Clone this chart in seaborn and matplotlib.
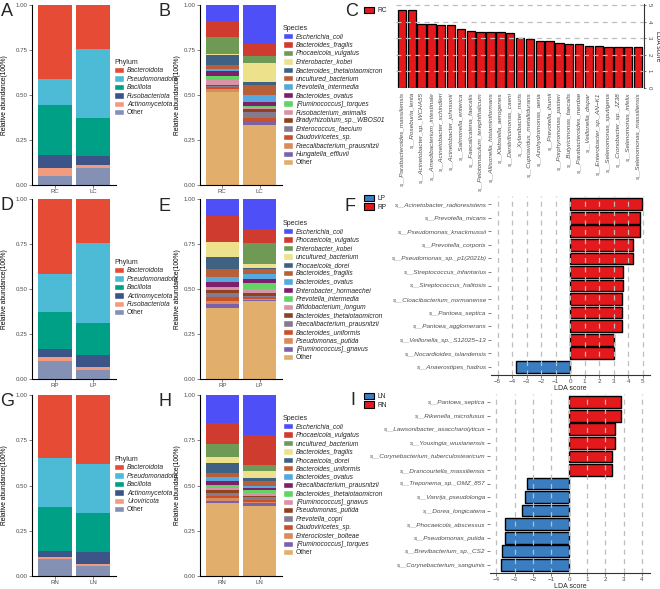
import numpy as np
import pandas as pd
import matplotlib
matplotlib.use("Agg")
import matplotlib.pyplot as plt
from matplotlib.patches import Patch
import seaborn as sns

sns.set_style("ticks")
plt.rcParams['font.family'] = ['Liberation Sans', 'DejaVu Sans']

W, H = 660, 589

# ---------------- DATA ----------------
phylum_colors = ["#E64B35", "#4DBBD5", "#00A087", "#3C5488", "#F39B7F", "#8491B4"]
species_colors = ["#4F4FF7", "#D03B30", "#6E9A55", "#EEE18C", "#3F6282", "#B95F38",
                  "#55A9DF", "#7E1F6C", "#62D463", "#D993A6", "#8D4322", "#857A8E",
                  "#C8512A", "#DA8A5C", "#7A62AA", "#E1AE6B"]

# Panel A (legend order, top of stack first)
samples_A = ["RC", "LC"]
phyla_A = ["Bacteroidota", "Pseudomonadota", "Bacillota", "Fusobacteriota", "Actinomycetota", "Other"]
RC_phylum = [0.413, 0.143, 0.277, 0.071, 0.044, 0.052]
LC_phylum = [0.246, 0.384, 0.209, 0.052, 0.013, 0.096]

# Panel D
samples_D = ["RP", "LP"]
phyla_D = ["Bacteroidota", "Pseudomonadota", "Bacillota", "Actinomycetota", "Fusobacteriota", "Other"]
RP_phylum = [0.419, 0.211, 0.203, 0.047, 0.018, 0.102]
LP_phylum = [0.246, 0.445, 0.176, 0.068, 0.015, 0.050]

# Panel G
samples_G = ["RN", "LN"]
phyla_G = ["Bacteroidota", "Pseudomonadota", "Bacillota", "Actinomycetota", "Uroviricota", "Other"]
RN_phylum = [0.349, 0.269, 0.246, 0.031, 0.013, 0.092]
LN_phylum = [0.381, 0.272, 0.215, 0.064, 0.015, 0.053]

# Panel B
species_B = ["Escherichia_coli", "Bacteroides_fragilis", "Phocaeicola_vulgatus", "Enterobacter_kobei",
             "Bacteroides_thetaiotaomicron", "uncultured_bacterium", "Prevotella_intermedia",
             "Bacteroides_ovatus", "[Ruminococcus]_torques", "Fusobacterium_animalis",
             "Bradyrhizobium_sp._WBOS01", "Enterococcus_faecium", "Caudoviricetes_sp.",
             "Faecalibacterium_prausnitzii", "Hungatella_effluvii", "Other"]
RC_species = [0.087, 0.093, 0.094, 0.002, 0.056, 0.024, 0.013, 0.026, 0.022, 0.026,
              0.009, 0.004, 0.009, 0.017, 0.003, 0.515]
LC_species = [0.216, 0.069, 0.040, 0.104, 0.015, 0.055, 0.042, 0.018, 0.016, 0.004,
              0.018, 0.033, 0.012, 0.004, 0.018, 0.336]

# Panel E
species_E = ["Escherichia_coli", "Phocaeicola_vulgatus", "Enterobacter_kobei", "uncultured_bacterium",
             "Phocaeicola_dorei", "Bacteroides_fragilis", "Bacteroides_ovatus", "Enterobacter_hormaechei",
             "Prevotella_intermedia", "Bifidobacterium_longum", "Bacteroides_thetaiotaomicron",
             "Faecalibacterium_prausnitzii", "Bacteroides_uniformis", "Pseudomonas_putida",
             "[Ruminococcus]_gnavus", "Other"]
RP_species = [0.093, 0.146, 0.002, 0.080, 0.069, 0.042, 0.031, 0.024, 0.007, 0.009,
              0.018, 0.024, 0.022, 0.015, 0.022, 0.396]
LP_species = [0.168, 0.077, 0.115, 0.022, 0.005, 0.031, 0.024, 0.022, 0.038, 0.022,
              0.013, 0.009, 0.007, 0.007, 0.009, 0.431]

# Panel H
species_H = ["Escherichia_coli", "Phocaeicola_vulgatus", "uncultured_bacterium", "Bacteroides_fragilis",
             "Phocaeicola_dorei", "Bacteroides_uniformis", "Bacteroides_ovatus",
             "Faecalibacterium_prausnitzii", "Bacteroides_thetaiotaomicron", "[Ruminococcus]_gnavus",
             "Pseudomonas_putida", "Prevotella_copri", "Caudoviricetes_sp.", "Enterocloster_bolteae",
             "[Ruminococcus]_torques", "Other"]
RN_species = [0.155, 0.115, 0.071, 0.033, 0.055, 0.022, 0.024, 0.024, 0.016, 0.009,
              0.018, 0.015, 0.013, 0.018, 0.009, 0.403]
LN_species = [0.219, 0.168, 0.031, 0.042, 0.013, 0.029, 0.011, 0.013, 0.013, 0.018,
              0.007, 0.015, 0.011, 0.007, 0.018, 0.385]

# Panel C (LDA, RC)
C_names = ["s__Parabacteroides_massiliensis", "s__Roseburia_lenta", "s__Acinetobacter_sp._WCHA55",
           "s__Amedibacterium_intestinale", "s__Acinetobacter_schindleri", "s__Acinetobacter_johnsonii",
           "s__Salmonella_enterica", "s__Faecalicatena_faecalis", "s__Pelotomaculum_terephthalicum",
           "s__Allisonella_histaminiformans", "s__Klebsiella_aerogenes", "s__Denitrificimonas_caeni",
           "s__Xylanibacter_muris", "s__Cupriavidus_metallidurans", "s__Azohydromonas_aeria",
           "s__Prevotella_ihumii", "s__Porphyromonas_pasteri", "s__Butyricimonas_faecalis",
           "s__Parabacteroides_merdae", "s__Veillonella_dispar", "s__Enterobacter_sp._AN\u2212K1",
           "s__Selenomonas_sputigena", "s__Cronobacter_sp._JZ38", "s__Selenomonas_infelix",
           "s__Selenomonas_massiliensis"]
C_values = [4.70, 4.70, 3.84, 3.84, 3.82, 3.80, 3.56, 3.42, 3.40, 3.36, 3.36, 3.34, 3.00,
            2.98, 2.84, 2.82, 2.74, 2.66, 2.64, 2.56, 2.56, 2.48, 2.48, 2.48, 2.46]
C_groups = ["RC"]

# Panel F (LDA, LP vs RP)
F_names = ["s__Acinetobacter_radioresistens", "s__Prevotella_micans", "s__Pseudomonas_knackmussii",
           "s__Prevotella_corporis", "s__Pseudomonas_sp._p1(2021b)", "s__Streptococcus_infantarius",
           "s__Streptococcus_halitosis", "s__Cloacibacterium_normanense", "s__Pantoea_septica",
           "s__Pantoea_agglomerans", "s__Veillonella_sp._S12025\u221213", "s__Nocardioides_islandensis",
           "s__Anaerostipes_hadrus"]
F_values = [4.93, 4.82, 4.82, 4.36, 4.36, 3.67, 3.67, 3.56, 3.56, 3.56, 3.03, 3.03, -3.74]
F_groups = ["RP"] * 12 + ["LP"]

# Panel I (LDA, LN vs RN)
I_names = ["s__Pantoea_septica", "s__Rikenella_microfusus", "s__Lawsonibacter_asaccharolyticus",
           "s__Youxingia_wuxianensis", "s__Corynebacterium_tuberculostearicum",
           "s__Drancourtella_massiliensis", "s__Treponema_sp._OMZ_857", "s__Vanrija_pseudolonga",
           "s__Dorea_longicatena", "s__Phocaeicola_abscessus", "s__Pseudomonas_putida",
           "s__Brevibacterium_sp._CS2", "s__Corynebacterium_sanguinis"]
I_values = [2.83, 2.83, 2.51, 2.51, 2.35, 2.35, -2.29, -2.40, -2.57, -3.52, -3.52, -3.67, -3.74]
I_groups = ["RN"] * 6 + ["LN"] * 7

RED = "#E3191C"
BLUE = "#3A7DC1"
TICKC = "#4D4D4D"

# ---------------- FIGURE ----------------
fig = plt.figure(figsize=(W / 100, H / 100), dpi=100)


def add_ax(l, t, r, b):
    return fig.add_axes([l / W, 1 - b / H, (r - l) / W, (b - t) / H])


def legend_at(handles, labels, x, y, title=None, italic=True, fs=4.8):
    leg = fig.legend(handles, labels, loc="upper left", bbox_to_anchor=(x / W, 1 - y / H),
                     frameon=False, fontsize=fs, title=title, title_fontsize=5,
                     handlelength=1.5, handleheight=1.1, labelspacing=0.14,
                     handletextpad=0.45, borderaxespad=0, borderpad=0)
    leg._legend_box.align = "left"
    for t in leg.get_texts():
        if italic and t.get_text() != "Other":
            t.set_style("italic")
    return leg


def stacked(ax, samples, taxa, columns, colors, label_x):
    df = pd.DataFrame(dict(zip(samples, columns)), index=taxa)
    cum = df[::-1].cumsum()[::-1]
    for taxon, col in zip(taxa, colors):
        d = pd.DataFrame({"sample": samples, "top": cum.loc[taxon, samples].values})
        sns.barplot(data=d, x="sample", y="top", order=samples, color=col, width=0.9,
                    saturation=1, linewidth=0, errorbar=None, ax=ax)
    ax.set_xlim(-0.6, 1.6)
    ax.set_ylim(0, 1)
    ax.set_yticks([0, 0.25, 0.5, 0.75, 1.0])
    ax.set_yticklabels(["0.00", "0.25", "0.50", "0.75", "1.00"])
    ax.set_xlabel("")
    ax.set_ylabel("Relative abundance(100%)", fontsize=4.8, color="black")
    ax.yaxis.set_label_coords(label_x, 0.5)
    ax.tick_params(axis="both", labelsize=4.4, colors=TICKC, length=2, width=0.5, pad=1)
    for s in ["top", "right"]:
        ax.spines[s].set_visible(False)
    for s in ["left", "bottom"]:
        ax.spines[s].set_linewidth(0.8)
        ax.spines[s].set_color("black")


def lda_h(ax, names, values, groups, palette, xlim, xticks):
    df = pd.DataFrame({"name": names, "lda": values, "group": groups})
    sns.barplot(data=df, x="lda", y="name", hue="group", palette=palette, order=names,
                orient="h", dodge=False, width=0.86, saturation=1, edgecolor="black",
                linewidth=1.0, errorbar=None, legend=False, ax=ax)
    ax.set_xlim(*xlim)
    ax.set_ylim(len(names) - 0.4, -0.6)
    ax.set_xticks(xticks)
    ax.set_axisbelow(False)
    ax.xaxis.grid(True, linestyle=(0, (4, 3.5)), color="#BDBDBD", linewidth=0.9)
    ax.set_ylabel("")
    ax.set_xlabel("LDA score", fontsize=5, labelpad=0.5)
    ax.tick_params(axis="x", labelsize=4.5, colors=TICKC, length=2, width=0.5, pad=0.8)
    ax.tick_params(axis="y", labelsize=4.6, colors=TICKC, length=2, width=0.5, pad=1)
    for t in ax.get_yticklabels():
        t.set_style("italic")
    for s in ["top", "right", "left"]:
        ax.spines[s].set_visible(False)
    ax.spines["bottom"].set_linewidth(0.8)
    ax.spines["bottom"].set_color("#333333")


# Panel A
axA = add_ax(32, 5, 116, 185)
stacked(axA, samples_A, phyla_A, [RC_phylum, LC_phylum], phylum_colors, -0.29)
legend_at([Patch(facecolor=c) for c in phylum_colors], phyla_A, 114, 59, "Phylum")

# Panel B
axB = add_ax(200, 5, 282, 185)
stacked(axB, samples_A, species_B, [RC_species, LC_species], species_colors, -0.235)
legend_at([Patch(facecolor=c) for c in species_colors], species_B, 283, 25, "Species")

# Panel D
axD = add_ax(32, 199, 116, 379)
stacked(axD, samples_D, phyla_D, [RP_phylum, LP_phylum], phylum_colors, -0.29)
legend_at([Patch(facecolor=c) for c in phylum_colors], phyla_D, 114, 259, "Phylum")

# Panel E
axE = add_ax(200, 199, 282, 379)
stacked(axE, samples_D, species_E, [RP_species, LP_species], species_colors, -0.235)
legend_at([Patch(facecolor=c) for c in species_colors], species_E, 283, 220, "Species")

# Panel G
axG = add_ax(32, 395, 116, 576)
stacked(axG, samples_G, phyla_G, [RN_phylum, LN_phylum], phylum_colors, -0.29)
legend_at([Patch(facecolor=c) for c in phylum_colors], phyla_G, 114, 456, "Phylum")

# Panel H
axH = add_ax(200, 395, 282, 576)
stacked(axH, samples_G, species_H, [RN_species, LN_species], species_colors, -0.235)
legend_at([Patch(facecolor=c) for c in species_colors], species_H, 283, 415, "Species")

# Panel C
axC = add_ax(396, 4, 644, 88)
dfC = pd.DataFrame({"name": C_names, "lda": C_values})
sns.barplot(data=dfC, x="name", y="lda", order=C_names, color=RED, width=0.85, saturation=1,
            edgecolor="black", linewidth=0.9, errorbar=None, ax=axC)
axC.set_xlim(-0.6, len(C_names) - 0.4)
axC.set_ylim(0, 5.06)
axC.set_yticks([0, 1, 2, 3, 4, 5])
axC.set_axisbelow(False)
axC.yaxis.grid(True, linestyle=(0, (4, 3.5)), color="#BDBDBD", linewidth=0.9)
axC.yaxis.tick_right()
axC.yaxis.set_label_position("right")
axC.set_ylabel("LDA score", fontsize=4.8, rotation=-90, va="bottom", labelpad=1.5)
axC.set_xlabel("")
axC.tick_params(axis="y", labelsize=4.4, colors=TICKC, length=1.5, width=0.5, pad=0.6, labelrotation=-90)
axC.tick_params(axis="x", labelsize=4.6, colors=TICKC, length=0, pad=3)
for t in axC.get_xticklabels():
    t.set_rotation(90)
    t.set_ha("center")
    t.set_va("top")
    t.set_style("italic")
for s in ["top", "left", "bottom"]:
    axC.spines[s].set_visible(False)
axC.spines["right"].set_linewidth(0.8)
axC.spines["right"].set_color("#333333")
legend_at([Patch(facecolor=RED, edgecolor="black", linewidth=0.8)], C_groups, 364, 7, italic=False)

# Panel F
axF = add_ax(491, 196, 650, 375)
lda_h(axF, F_names, F_values, F_groups, {"LP": BLUE, "RP": RED}, (-5.45, 5.5), list(range(-5, 6)))
legend_at([Patch(facecolor=BLUE, edgecolor="black", linewidth=0.8),
           Patch(facecolor=RED, edgecolor="black", linewidth=0.8)], ["LP", "RP"], 364, 195, italic=False)

# Panel I
axI = add_ax(490, 394, 650, 573)
lda_h(axI, I_names, I_values, I_groups, {"LN": BLUE, "RN": RED}, (-4.35, 4.45), list(range(-4, 5)))
legend_at([Patch(facecolor=BLUE, edgecolor="black", linewidth=0.8),
           Patch(facecolor=RED, edgecolor="black", linewidth=0.8)], ["LN", "RN"], 364, 393, italic=False)

# Panel letters
for letter, x, y in [("A", 1, 3), ("B", 158, 3), ("C", 345, 3), ("D", 0, 197), ("E", 158, 198),
                     ("F", 345, 198), ("G", 0, 393), ("H", 158, 393), ("I", 350, 392)]:
    fig.text(x / W, 1 - y / H, letter, fontsize=13, ha="left", va="top")

fig.savefig("out.png", dpi=100)
